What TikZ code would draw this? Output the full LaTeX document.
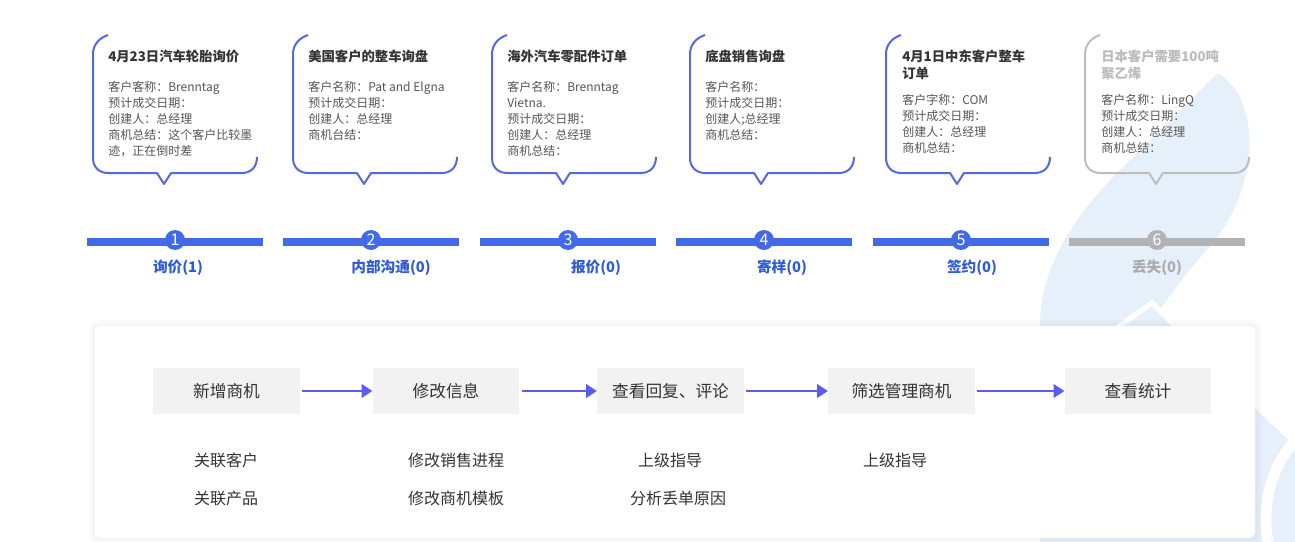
\documentclass[tikz,border=0pt]{standalone}
\usepackage{fontspec}
\setmainfont{Noto Sans CJK SC}
\usetikzlibrary{positioning,arrows.meta}

\definecolor{cardblue}{HTML}{5468E0}
\definecolor{cardgrey}{HTML}{BDBDBD}
\definecolor{barblue}{HTML}{4169E8}
\definecolor{bargrey}{HTML}{B3B3B3}
\definecolor{labelblue}{HTML}{2F5BD8}
\definecolor{labelgrey}{HTML}{ABABAB}
\definecolor{arrowblue}{HTML}{5A5CF2}
\definecolor{bgblue}{HTML}{E6F0FB}
\definecolor{boxgrey}{HTML}{F2F2F2}
\definecolor{titletext}{HTML}{333333}
\definecolor{bodytext}{HTML}{555555}
\definecolor{lighttitle}{HTML}{BBBBBB}

\begin{document}
\begin{tikzpicture}[x=0.75pt, y=-0.75pt,
  cardline/.style={line width=1.5pt, line join=round},
  cardtitle/.style={anchor=north west, inner sep=0pt, align=left, text=titletext,
    font=\bfseries\fontsize{10}{12.75}\selectfont},
  cardbody/.style={anchor=north west, inner sep=0pt, align=left, text=bodytext,
    font=\fontsize{9}{12}\selectfont},
  stagebar/.style={line width=6pt},
  stagedot/.style={circle, inner sep=0pt, minimum size=15pt, text=white,
    font=\fontsize{12}{12}\selectfont},
  stagelabel/.style={text=labelblue, font=\bfseries\fontsize{11}{11}\selectfont},
  flowbox/.style={fill=boxgrey, minimum width=110pt, minimum height=34.5pt,
    inner sep=0pt, text=titletext, font=\fontsize{12.5}{12.5}\selectfont},
  flowarrow/.style={draw=arrowblue, line width=1.6pt, shorten <=1.5pt,
    -{Triangle[length=8pt, width=10pt]}},
  flownote/.style={text=titletext, font=\fontsize{12}{12}\selectfont}
]
  \useasboundingbox (0,0) rectangle (1295,542);
  \clip (0,0) rectangle (1295,542);

  % 1. Background swoosh (light blue)
  \fill[bgblue] (1218,73) .. controls (1262,100) and (1262,190) .. (1205,252)
    .. controls (1185,275) and (1165,300) .. (1150,326) -- (1040,326)
    .. controls (1040,280) and (1060,230) .. (1120,170)
    .. controls (1160,130) and (1195,95) .. (1218,73) -- cycle;
  \fill[bgblue] (1152,303) -- (1300,448) -- (1300,542) -- (1040,542) -- (1040,400) -- cycle;
  \draw[white, line width=4pt] (1100,340) -- (1152,303) -- (1300,448);
  \draw[white, line width=8pt] (1293,443) .. controls (1270,470) and (1262,505) .. (1268,542);

  % 2. Speech bubbles, one per stage
  \foreach \x/\c in {93/cardblue, 293/cardblue, 492/cardblue, 690/cardblue, 886/cardblue, 1085/cardgrey}
    \draw[cardline, draw=\c] (\x+15,35) .. controls (\x+6,38) and (\x,45) .. (\x,54)
      -- (\x,158) .. controls (\x,167) and (\x+6,173) .. (\x+15,173)
      -- (\x+64,173) -- (\x+71,184) -- (\x+78,173)
      -- (\x+149,173) .. controls (\x+158,173) and (\x+164,167) .. (\x+164,157);

  % 3. Bubble texts
  \node[cardtitle] (title1) at (108,50) {4月23日汽车轮胎询价};
  \node[cardbody] (body1) at (108,81.5) {客户客称：Brenntag\\预计成交日期：\\创建人：总经理\\商机总结：这个客户比较墨\\迹，正在倒时差};
  \node[cardtitle] (title2) at (308,50) {美国客户的整车询盘};
  \node[cardbody] (body2) at (308,81.5) {客户名称：Pat and Elgna\\预计成交日期：\\创建人：总经理\\商机台结：};
  \node[cardtitle] (title3) at (507,50) {海外汽车零配件订单};
  \node[cardbody] (body3) at (507,81.5) {客户名称：Brenntag\\Vietna.\\预计成交日期：\\创建人：总经理\\商机总结：};
  \node[cardtitle] (title4) at (705,50) {底盘销售询盘};
  \node[cardbody] (body4) at (705,81.5) {客户名称：\\预计成交日期：\\创建人;总经理\\商机总结：};
  \node[cardtitle] (title5) at (902,50) {4月1日中东客户整车\\订单};
  \node[cardbody] (body5) at (902,94.5) {客户字称：COM\\预计成交日期：\\创建人：总经理\\商机总结：};
  \node[cardtitle, text=lighttitle] (title6) at (1101,50) {日本客户需要100吨\\聚乙烯};
  \node[cardbody] (body6) at (1101,94.5) {客户名称：LingQ\\预计成交日期：\\创建人：总经理\\商机总结：};

  % 4. Stage bars with numbered dots
  \foreach \i/\x/\c in {1/175/barblue, 2/371/barblue, 3/568/barblue, 4/764/barblue, 5/961/barblue, 6/1157/bargrey} {
    \draw[stagebar, draw=\c] (\x-88,242) -- (\x+88,242);
    \node[stagedot, fill=\c] (dot\i) at (\x,240) {\i};
  }
  \node[stagelabel] (label1) at (178,268) {询价(1)};
  \node[stagelabel] (label2) at (391,268) {内部沟通(0)};
  \node[stagelabel] (label3) at (596,268) {报价(0)};
  \node[stagelabel] (label4) at (782,268) {寄样(0)};
  \node[stagelabel] (label5) at (972,268) {签约(0)};
  \node[stagelabel, text=labelgrey] (label6) at (1157,268) {丢失(0)};

  % 5. Lower panel with a soft shadow
  \fill[black, opacity=0.02, rounded corners=8] (89,320) rectangle (1261,544);
  \fill[black, opacity=0.02, rounded corners=6] (92,323) rectangle (1258,541);
  \fill[white, rounded corners=4] (95,326) rectangle (1255,538);

  % 6. Flow of the steps
  \node[flowbox] (flow1) at (226.5,391) {新增商机};
  \node[flowbox] (flow2) at (446,391) {修改信息};
  \node[flowbox] (flow3) at (670.5,391) {查看回复、评论};
  \node[flowbox] (flow4) at (901.5,391) {筛选管理商机};
  \node[flowbox] (flow5) at (1138,391) {查看统计};
  \draw[flowarrow] (flow1) -- (flow2);
  \draw[flowarrow] (flow2) -- (flow3);
  \draw[flowarrow] (flow3) -- (flow4);
  \draw[flowarrow] (flow4) -- (flow5);

  % 7. Notes under the steps
  \node[flownote] (note1a) at (226,460) {关联客户};
  \node[flownote] (note1b) at (226,498) {关联产品};
  \node[flownote] (note2a) at (456,460) {修改销售进程};
  \node[flownote] (note2b) at (456,498) {修改商机模板};
  \node[flownote] (note3a) at (670,460) {上级指导};
  \node[flownote] (note3b) at (678,498) {分析丢单原因};
  \node[flownote] (note4a) at (895,460) {上级指导};
\end{tikzpicture}
\end{document}
